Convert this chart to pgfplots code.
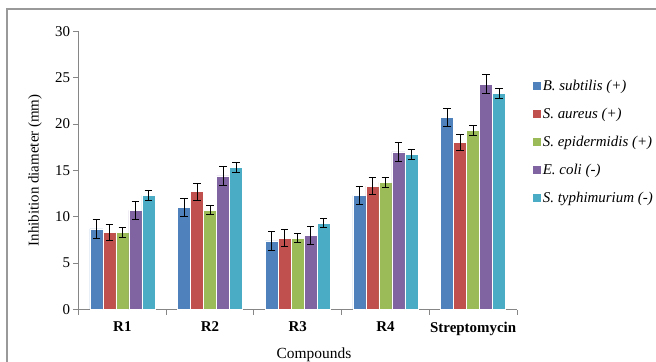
\documentclass[border=0pt]{standalone}
\usepackage{pgfplots}
\pgfplotsset{compat=1.18}
\usepackage{pgfplotstable}
\usepackage{fontspec}
\setmainfont{Liberation Serif}
\definecolor{cB}{HTML}{4F81BD}
\definecolor{cR}{HTML}{C0504D}
\definecolor{cG}{HTML}{9BBB59}
\definecolor{cP}{HTML}{8064A2}
\definecolor{cC}{HTML}{4BACC6}
\definecolor{axgray}{HTML}{868686}
\pgfplotsset{sqlegend/.style={legend image code/.code={\fill[##1,draw=none] (0bp,-4bp) rectangle (8bp,4bp);}}}
\pgfplotstableread{
x y e
0 8.7 1.0
1 11.0 1.0
2 7.4 1.0
3 12.3 1.0
4 20.7 1.0
}\tblB
\pgfplotstableread{
x y e
0 8.3 0.9
1 12.7 0.9
2 7.7 0.9
3 13.3 0.9
4 18.0 0.9
}\tblR
\pgfplotstableread{
x y e
0 8.3 0.5
1 10.7 0.5
2 7.7 0.5
3 13.7 0.5
4 19.3 0.5
}\tblG
\pgfplotstableread{
x y e
0 10.7 1.0
1 14.4 1.0
2 8.0 1.0
3 17.0 1.0
4 24.3 1.0
}\tblP
\pgfplotstableread{
x y e
0 12.3 0.5
1 15.3 0.5
2 9.3 0.5
3 16.7 0.5
4 23.3 0.5
}\tblC
\begin{document}
\begin{tikzpicture}[font=\fontsize{15}{17}\selectfont, x=1bp, y=1bp]
\begin{axis}[
  at={(0,0)}, anchor=south west,
  scale only axis, width=438.5bp, height=278.2bp,
  ybar=0pt, bar width=13bp,
  xmin=-0.5, xmax=4.5, ymin=0, ymax=30,
  axis x line*=bottom, axis y line*=left,
  axis line style={axgray, line width=1bp},
  xtick={0,1,2,3,4},
  xticklabels={R1,R2,R3,R4,Streptomycin},
  xticklabel style={font=\fontsize{15}{17}\selectfont\bfseries, yshift=-4bp},
  major x tick style={draw=none},
  minor xtick={-0.5,0.5,1.5,2.5,3.5,4.5},
  minor x tick style={axgray, line width=1bp},
  minor tick length=5bp,
  ytick={0,5,...,30},
  y tick style={axgray, line width=1bp},
  major tick length=5bp,
  tick align=outside,
  /pgf/number format/assume math mode=true,
  yticklabel style={font=\fontsize{15}{17}\selectfont},
  ylabel={Inhibition diameter (mm)},
  ylabel style={at={(axis description cs:-0.099,0.5)}, anchor=center, font=\fontsize{15}{17}\selectfont},
  xlabel={Compounds},
  xlabel style={at={(axis description cs:0.537,-0.1636)}, anchor=center, font=\fontsize{15.5}{17}\selectfont},
  legend style={draw=none, fill=none, at={(1.03,0.838)}, anchor=north west,
    row sep=12bp, legend cell align=left,
    font=\fontsize{15}{17}\selectfont\itshape,
    nodes={inner xsep=1.5bp}},
  error bars/y dir=both, error bars/y explicit,
  error bars/error bar style={black, line width=1bp},
  error bars/error mark options={rotate=90, mark size=3.7bp, black, line width=1bp},
]
\addplot[fill=cB, draw=white, line width=0.6bp, sqlegend] table[x=x,y=y,y error=e]{\tblB};
\addplot[fill=cR, draw=white, line width=0.6bp, sqlegend] table[x=x,y=y,y error=e]{\tblR};
\addplot[fill=cG, draw=white, line width=0.6bp, sqlegend] table[x=x,y=y,y error=e]{\tblG};
\addplot[fill=cP, draw=white, line width=0.6bp, sqlegend] table[x=x,y=y,y error=e]{\tblP};
\addplot[fill=cC, draw=white, line width=0.6bp, sqlegend] table[x=x,y=y,y error=e]{\tblC};
\legend{B. subtilis (+),S. aureus (+),S. epidermidis (+),E. coli (-),S. typhimurium (-)}
\end{axis}
\draw[gray!80, line width=1.2bp] (-71.5bp,-80bp) -- (-71.5bp,300.5bp) -- (620bp,300.5bp);
\pgfresetboundingbox
\useasboundingbox (-78.5bp,-52.5bp) rectangle (577.5bp,309.5bp);
\end{tikzpicture}
\end{document}
